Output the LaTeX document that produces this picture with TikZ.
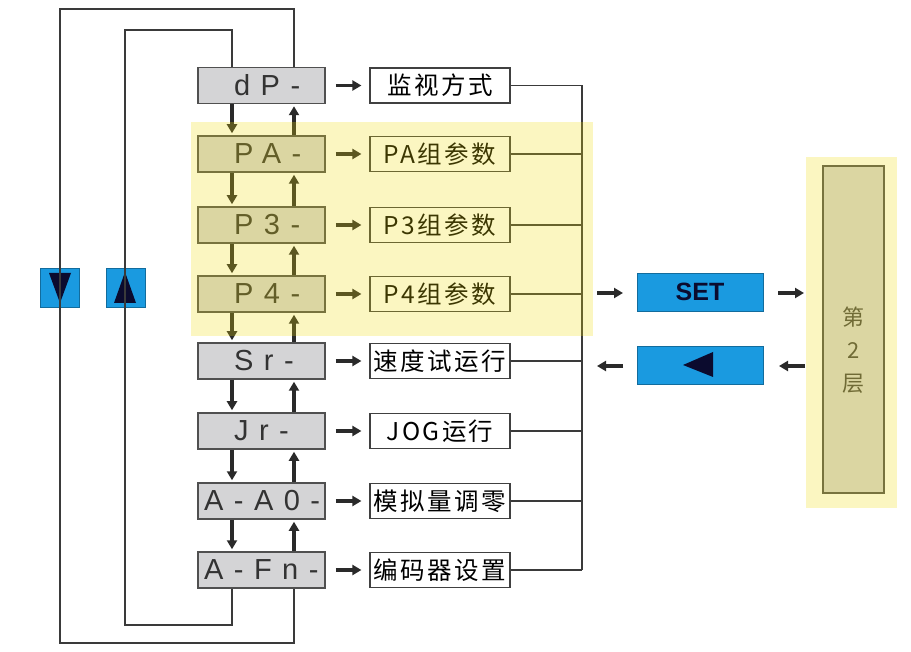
\documentclass[tikz,border=0pt]{standalone}
\usepackage{fontspec}
\newfontfamily\cjk[LetterSpace=10]{Noto Sans CJK SC}
\newfontfamily\cjkplain{Noto Sans CJK SC}
\newfontfamily\seg[LetterSpace=36]{Liberation Sans}
\newfontfamily\btn{Liberation Sans}
\usetikzlibrary{arrows.meta}
\definecolor{dispfill}{HTML}{D4D4D6}
\definecolor{displine}{HTML}{505050}
\definecolor{labline}{HTML}{404040}
\definecolor{arrcol}{HTML}{2A2A2A}
\definecolor{wirecol}{HTML}{3A3A3A}
\definecolor{keyblue}{HTML}{1A9AE0}
\definecolor{navy}{HTML}{0B0B2E}
\definecolor{ovl}{rgb}{0.952,0.876,0.04}
\definecolor{rtext}{HTML}{454545}
\definecolor{segcol}{HTML}{333333}
\begin{document}
\begin{tikzpicture}[x=1pt,y=-1pt,
  disp/.style={draw=displine, fill=dispfill, line width=1.5pt, minimum width=127pt, minimum height=36pt, inner sep=0pt},
  segtxt/.style={anchor=west, inner sep=0pt, text=segcol, font=\seg\fontsize{29}{29}\selectfont},
  lab/.style={draw=labline, fill=white, line width=1.2pt, minimum width=140pt, minimum height=35pt, inner sep=0pt, font=\cjk\fontsize{24.5}{24.5}\selectfont},
  arr/.style={-{Triangle[length=9pt,width=10pt]}, line width=3.5pt, draw=arrcol},
  wire/.style={line width=1.3pt, draw=wirecol},
  loopline/.style={line width=1.5pt, draw=wirecol},
  key/.style={fill=keyblue, draw=keyblue!70!black, line width=0.6pt, inner sep=0pt},
  overlay/.style={fill=ovl, opacity=0.25}
]
\useasboundingbox (0,0) rectangle (911,652);
\fill[white] (0,0) rectangle (911,652);

% named coordinates
\coordinate (xa) at (232,0);
\coordinate (xb) at (294,0);
\coordinate (bus) at (582,0);
\coordinate (ob) at (60,643);
\coordinate (ot) at (60,9);
\coordinate (ib) at (125,625);
\coordinate (it) at (125,30);

% left keys
\node[key, minimum width=39pt, minimum height=39pt] (kdown) at (59.5,287.5) {};
\node[key, minimum width=39pt, minimum height=39pt] (kup) at (125.5,287.5) {};
\fill[navy] (49,273) -- (71,273) -- (60,303) -- cycle;
\fill[navy] (114,303) -- (136,303) -- (125,272) -- cycle;

% displays
\node[disp] (d1) at (261.5,85.5) {};
\node[disp] (d2) at (261.5,154) {};
\node[disp] (d3) at (261.5,225) {};
\node[disp] (d4) at (261.5,294) {};
\node[disp] (d5) at (261.5,361) {};
\node[disp] (d6) at (261.5,431) {};
\node[disp] (d7) at (261.5,501) {};
\node[disp] (d8) at (261.5,570) {};
\node[segtxt] (s1) at (234,85.5) {dP-};
\node[segtxt] (s2) at (234,154) {PA-};
\node[segtxt] (s3) at (234,225) {P3-};
\node[segtxt] (s4) at (234,294) {P4-};
\node[segtxt] (s5) at (234,361) {Sr-};
\node[segtxt] (s6) at (234,431) {Jr-};
\node[segtxt] (s7) at (204,501) {A-A0-};
\node[segtxt] (s8) at (204,570) {A-Fn-};

% labels
\node[lab] (l1) at (440,85.5) {监视方式};
\node[lab] (l2) at (440,154) {PA组参数};
\node[lab] (l3) at (440,225) {P3组参数};
\node[lab] (l4) at (440,294) {P4组参数};
\node[lab] (l5) at (440,361) {速度试运行};
\node[lab] (l6) at (440,431) {JOG运行};
\node[lab] (l7) at (440,501) {模拟量调零};
\node[lab] (l8) at (440,570) {编码器设置};

% loops
\draw[loopline] (d8.south -| xb) |- (ob) -- (ot) -| (d1.north -| xb);
\draw[loopline] (d8.south -| xa) |- (ib) -- (it) -| (d1.north -| xa);

% arrows display -> label, and vertical
\foreach \i in {1,...,8}{
  \draw[arr, shorten <=10pt, shorten >=8pt] (d\i) -- (l\i);
}
\foreach \i/\j in {1/2,2/3,3/4,4/5,5/6,6/7,7/8}{
  \draw[arr, shorten >=2pt] (d\i.south -| xa) -- (d\j.north -| xa);
  \draw[arr, shorten >=2pt] (d\j.north -| xb) -- (d\i.south -| xb);
}

% right bus
\foreach \i in {1,...,8}{
  \draw[wire] (l\i.east) -- (l\i.east -| bus);
}
\draw[wire] (l1.east -| bus) -- (l8.east -| bus);

% SET / back keys
\node[key, minimum width=126pt, minimum height=38pt, font=\btn\bfseries\fontsize{25}{25}\selectfont, text=navy] (set) at (700,292) {SET};
\node[key, minimum width=126pt, minimum height=38pt] (back) at (700,365) {};
\fill[navy] (683,365) -- (713,352) -- (713,377) -- cycle;

% layer 2 box
\node[draw=displine, fill=dispfill, line width=1.3pt, minimum width=61pt, minimum height=327pt, inner sep=0pt] (layer) at (853.5,329.5) {};
\node[text=rtext, font=\cjkplain\fontsize{22}{33}\selectfont, align=center] (ltxt) at (853.5,350) {第\\2\\层};

\coordinate (a1s) at (597,293);
\coordinate (a1e) at (623,293);
\coordinate (a2s) at (778,293);
\coordinate (a2e) at (804,293);
\coordinate (a3s) at (623,366);
\coordinate (a3e) at (597,366);
\coordinate (a4s) at (805,366);
\coordinate (a4e) at (779,366);
\draw[arr] (a1s) -- (a1e);
\draw[arr] (a2s) -- (a2e);
\draw[arr] (a3s) -- (a3e);
\draw[arr] (a4s) -- (a4e);

% yellow overlays
\fill[overlay] (191,122) rectangle (593,336);
\fill[overlay] (806,157) rectangle (897,508);
\end{tikzpicture}
\end{document}
